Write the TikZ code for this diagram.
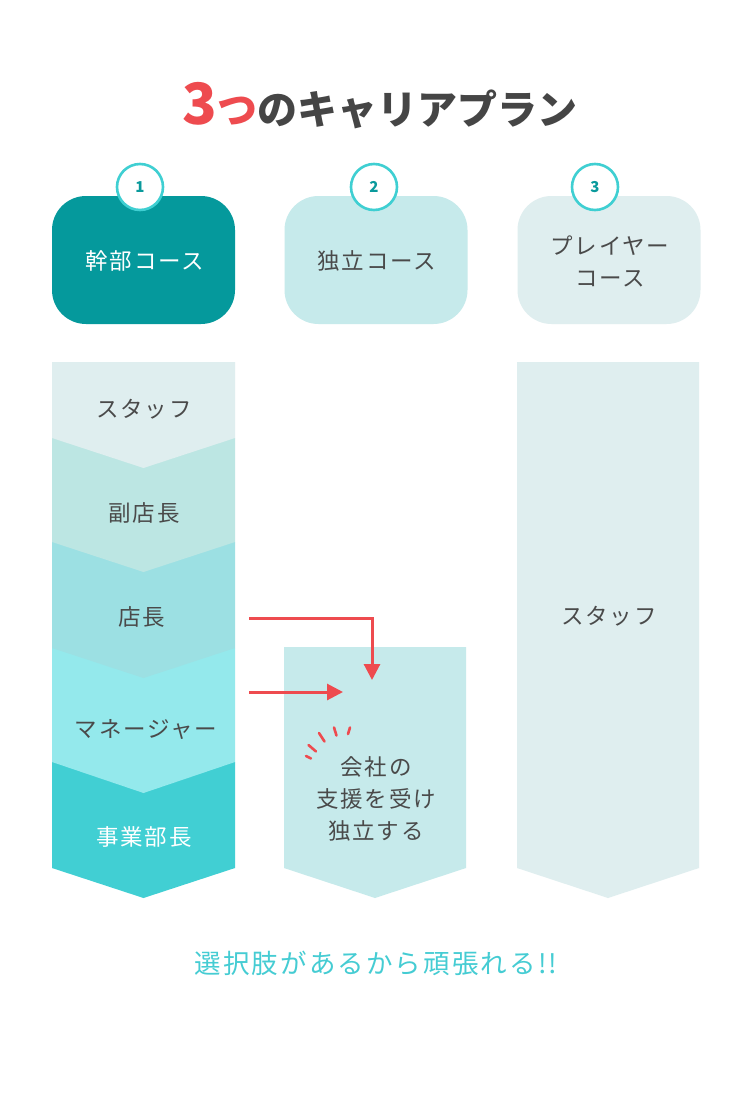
\documentclass[tikz,border=0pt]{standalone}
\usepackage{fontspec}
\usetikzlibrary{arrows.meta}
\newfontfamily\jp{Noto Sans CJK JP}
\newfontfamily\jpsp[LetterSpace=8]{Noto Sans CJK JP}
\definecolor{titlegray}{HTML}{454545}
\definecolor{txtgray}{HTML}{4A4A4A}
\definecolor{accred}{HTML}{EE4B4F}
\definecolor{tealdark}{HTML}{05999C}
\definecolor{tealnum}{HTML}{0A9A9C}
\definecolor{ringc}{HTML}{3FCFD2}
\definecolor{boxmid}{HTML}{C6EAEB}
\definecolor{boxlight}{HTML}{DFEEEF}
\definecolor{lvA}{HTML}{DFEEEF}
\definecolor{lvB}{HTML}{BCE6E3}
\definecolor{lvC}{HTML}{9CE0E3}
\definecolor{lvD}{HTML}{94E9EC}
\definecolor{lvE}{HTML}{41CFD3}
\definecolor{slogan}{HTML}{45CCD3}
\tikzset{
  coursebox/.style={rounded corners=34pt, minimum width=183pt, minimum height=128pt, inner sep=0pt, align=center},
  numring/.style={circle, draw=ringc, line width=2.6pt, fill=white, minimum size=46pt, inner sep=0pt, text=tealnum, font=\jp\bfseries\fontsize{15}{15}\selectfont},
  lvtext/.style={text=txtgray, font=\jpsp\fontsize{22.5}{28}\selectfont, align=center, inner sep=0pt},
  redarrow/.style={draw=accred, line width=3pt, -{Triangle[length=16pt,width=16pt]}},
  spark/.style={draw=accred, line width=2.6pt, line cap=round}
}
\begin{document}
\begin{tikzpicture}[x=1pt,y=-1pt]
\useasboundingbox[fill=white] (0,0) rectangle (750,1100);

% title
\node[inner sep=0pt, anchor=base] (title) at (380,124) {\jp\bfseries{\color{accred}\fontsize{57}{57}\selectfont 3\fontsize{40}{40}\selectfont つ}{\color{titlegray}\fontsize{40}{40}\selectfont のキャリアプラン}};

% course boxes
\node[coursebox, fill=tealdark] (c1) at (143.5,260) {};
\node[coursebox, fill=boxmid] (c2) at (376,260) {};
\node[coursebox, fill=boxlight] (c3) at (609,260) {};
\node[lvtext, text=white] (c1t) at (145,261) {幹部コース};
\node[lvtext] (c2t) at (377,261) {独立コース};
\node[lvtext, font=\jpsp\fontsize{22.5}{32}\selectfont] (c3t) at (610,261) {プレイヤー\\コース};
\node[numring] (n1) at (140,187) {1};
\node[numring] (n2) at (374,187) {2};
\node[numring] (n3) at (595,187) {3};

% left ladder (drawn bottom-up)
\fill[lvE] (52,762) -- (235,762) -- (235,868) -- (143.5,898) -- (52,868) -- cycle;
\fill[lvD] (52,648) -- (235,648) -- (235,762) -- (143.5,793) -- (52,762) -- cycle;
\fill[lvC] (52,542) -- (235,542) -- (235,648) -- (143.5,678) -- (52,648) -- cycle;
\fill[lvB] (52,438) -- (235,438) -- (235,542) -- (143.5,572) -- (52,542) -- cycle;
\fill[lvA] (52,362) -- (235,362) -- (235,438) -- (143.5,468) -- (52,438) -- cycle;
\node[lvtext] (l1) at (144,409) {スタッフ};
\node[lvtext] (l2) at (144,513) {副店長};
\node[lvtext] (l3) at (142,617) {店長};
\node[lvtext] (l4) at (146,729) {マネージャー};
\node[lvtext, text=white] (l5) at (144,837) {事業部長};

% middle column
\fill[boxmid] (284,647) -- (466,647) -- (466,868) -- (375,898) -- (284,868) -- cycle;
\node[lvtext, font=\jpsp\fontsize{22.5}{32}\selectfont] (mt) at (376,799) {会社の\\支援を受け\\独立する};

% right column
\fill[boxlight] (517,362) -- (699,362) -- (699,868) -- (608,898) -- (517,868) -- cycle;
\node[lvtext] (rt) at (609,616) {スタッフ};

% red arrows
\coordinate (a1s) at (249,618);
\coordinate (a1c) at (372,618);
\coordinate (a1e) at (372,680);
\coordinate (a2s) at (249,692);
\coordinate (a2e) at (343,692);
\draw[redarrow] (a1s) -- (a1c) -- (a1e);
\draw[redarrow] (a2s) -- (a2e);

% sparks
\draw[spark] (306,756) -- (311,758.5);
\draw[spark] (308.5,745) -- (316,751.5);
\draw[spark] (319,733) -- (324.5,741.5);
\draw[spark] (334,727.5) -- (336.5,735.5);
\draw[spark] (350,727.5) -- (348,734);

% slogan
\node[inner sep=0pt, text=slogan, font=\jpsp\fontsize{26.5}{26.5}\selectfont] (slg) at (376,963) {選択肢があるから頑張れる!!};
\end{tikzpicture}
\end{document}
